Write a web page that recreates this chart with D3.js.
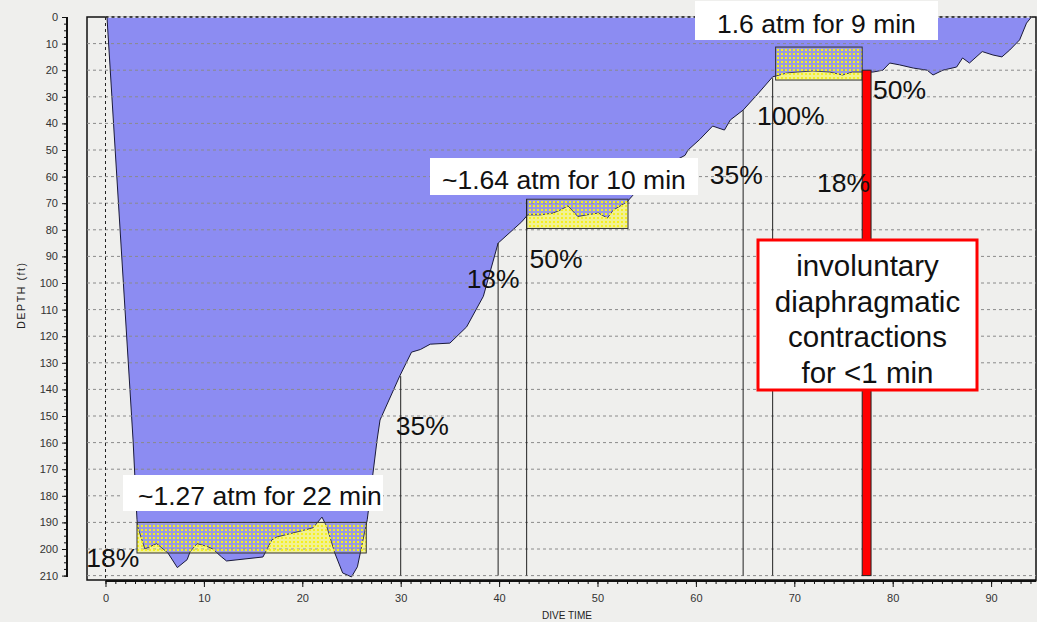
<!DOCTYPE html>
<html>
<head>
<meta charset="utf-8">
<script src="https://cdn.jsdelivr.net/npm/d3@7"></script>
<style>
  body { margin: 0; background: #efefed; }
  svg { display: block; font-family: "Liberation Sans", Arial, sans-serif; }
  .axis text { font-size: 11px; fill: #333; font-family: "Liberation Sans", Arial, sans-serif; }
  .axis path, .axis line { stroke: #111; }
</style>
</head>
<body>
<div id="chart"></div>
<script>
// dive profile (minutes, feet)
var profileTime = [0.15, 2.8, 3.2, 3.3, 4.0, 5.2, 6.35, 7.3, 8.3, 8.6, 9.3, 10.3, 10.9, 11.8, 12.3, 16.0, 16.9, 17.4,
  20.1, 21.1, 22.0, 22.5, 23.3, 24.1, 25.0, 25.6, 26.6, 27.6, 27.9, 29.9, 31.1, 32.0, 33.0, 35.0, 36.7, 38.4,
  39.9, 41.1, 42.3, 42.9, 44.2, 45.5, 46.2, 47.0, 48.0, 48.9, 50.1, 51.0, 51.6, 53.0, 53.6, 55.3, 58.9, 59.2,
  60.4, 61.7, 62.9, 63.5, 64.8, 66.2, 67.8, 69.3, 70.3, 71.9, 73.6, 74.9, 75.9, 76.9, 78.0, 79.0, 79.7, 80.7,
  82.1, 83.5, 84.1, 85.1, 86.5, 87.1, 87.8, 89.1, 90.2, 91.1, 91.9, 92.9, 93.6, 94.1];
var profileDepth = [0, 159, 189, 192, 200, 198, 201.5, 207, 204, 201, 198, 199, 200, 203, 204.5, 203, 196.6, 195.5,
  193, 192, 188, 191.7, 201.5, 209, 210.5, 206.7, 189, 159, 151.5, 135, 126, 125, 123, 122.6, 116.5, 105,
  85, 81, 77, 74.4, 74.4, 73.7, 72.6, 71, 75, 74.4, 73.7, 75.6, 72.6, 69.5, 67, 59, 52, 50,
  46, 41, 42.5, 38.7, 35, 29.3, 22.5, 21, 20.7, 20.3, 20.7, 21.8, 20.7, 20.7, 20.7, 20, 17.3, 18,
  19.2, 20, 21.8, 20, 18.8, 15.4, 17.3, 13, 14.3, 15, 12.4, 8.6, 2.3, 0];

// highlighted stretches (yellow boxes)
var boxStart = [3.2, 42.8, 68.1];
var boxEnd = [26.5, 53.1, 76.9];
var boxTop = [190, 68.5, 11.3];
var boxBottom = [201.5, 79.5, 23.7];
var boxLabels = ["~1.27 atm for 22 min", "~1.64 atm for 10 min", "1.6 atm for 9 min"];

// vertical marker lines and their percentages
var markerTime = [30, 39.9, 42.8, 64.8, 67.8];
var markerTop = [135, 85, 68.5, 35, 23];

var pctLabels = ["18%", "35%", "18%", "50%", "35%", "100%", "50%", "18%"];
var pctTime = [-1.95, 29.5, 36.7, 43.1, 61.4, 66.2, 78.0, 72.3];
var pctDepth = [206.8, 157, 101.8, 94.4, 62.8, 40.6, 30.8, 65.8];

// contraction period
var spasmStart = 76.9, spasmEnd = 77.8, spasmTop = 20, spasmBottom = 210;
var calloutLines = ["involuntary", "diaphragmatic", "contractions", "for <1 min"];

var yTicks = d3.range(0, 211, 10);
var xTicks = d3.range(0, 91, 10);

var width = 1037, height = 622;
var plotL = 87, plotT = 17, plotR = 1036, plotB = 580;

var x = d3.scaleLinear().domain([-1.88, 94.36]).range([plotL, 1034]);
var y = d3.scaleLinear().domain([0, 210]).range([plotT, 575.6]);

var svg = d3.select("#chart").append("svg")
  .attr("width", width)
  .attr("height", height);

svg.append("rect").attr("width", width).attr("height", height).attr("fill", "#efefed");

var defs = svg.append("defs");
var pat = defs.append("pattern")
  .attr("id", "dots")
  .attr("width", 4).attr("height", 4)
  .attr("patternUnits", "userSpaceOnUse");
pat.append("rect").attr("width", 4).attr("height", 4).attr("fill", "rgba(200,200,160,0.25)");
pat.append("rect").attr("x", 1).attr("y", 1).attr("width", 2).attr("height", 2).attr("fill", "#f6f020");

// plot frame
svg.append("rect")
  .attr("x", plotL).attr("y", plotT)
  .attr("width", plotR - plotL).attr("height", plotB - plotT)
  .attr("fill", "#efefed")
  .attr("stroke", "#111")
  .attr("stroke-width", 1.5);

var profile = profileTime.map(function(t, i) { return [t, profileDepth[i]]; });

// yellow base under the boxes
svg.selectAll("rect.boxbase")
  .data(boxStart)
  .enter().append("rect")
  .attr("class", "boxbase")
  .attr("x", function(d) { return x(d); })
  .attr("y", function(d, i) { return y(boxTop[i]); })
  .attr("width", function(d, i) { return x(boxEnd[i]) - x(d); })
  .attr("height", function(d, i) { return y(boxBottom[i]) - y(boxTop[i]); })
  .attr("fill", "#ffff90");

var area = d3.area()
  .x(function(d) { return x(d[0]); })
  .y0(y(0))
  .y1(function(d) { return y(d[1]); });

svg.append("path")
  .datum(profile)
  .attr("d", area)
  .attr("fill", "#8c8cf2");

svg.append("path")
  .datum(profile)
  .attr("d", d3.line().x(function(d) { return x(d[0]); }).y(function(d) { return y(d[1]); }))
  .attr("fill", "none")
  .attr("stroke", "#1a1a3a")
  .attr("stroke-width", 1);

// grid
svg.selectAll("line.grid")
  .data(yTicks.slice(1))
  .enter().append("line")
  .attr("class", "grid")
  .attr("x1", plotL).attr("x2", plotR)
  .attr("y1", function(d) { return y(d); })
  .attr("y2", function(d) { return y(d); })
  .attr("stroke", "#8a8a8a")
  .attr("stroke-dasharray", "3,3")
  .attr("stroke-width", 1);

svg.append("line")
  .attr("x1", x(0)).attr("x2", x(94.1))
  .attr("y1", y(0)).attr("y2", y(0))
  .attr("stroke", "#eeeeee").attr("stroke-width", 1.5);
svg.append("line")
  .attr("x1", x(0)).attr("x2", x(94.1))
  .attr("y1", y(0)).attr("y2", y(0))
  .attr("stroke", "#111").attr("stroke-width", 1.5)
  .attr("stroke-dasharray", "3,3");

svg.append("line")
  .attr("x1", x(0)).attr("x2", x(0))
  .attr("y1", plotT).attr("y2", plotB)
  .attr("stroke", "#222")
  .attr("stroke-dasharray", "3,3");

// dotted overlay + outline of boxes
svg.selectAll("rect.box")
  .data(boxStart)
  .enter().append("rect")
  .attr("class", "box")
  .attr("x", function(d) { return x(d); })
  .attr("y", function(d, i) { return y(boxTop[i]); })
  .attr("width", function(d, i) { return x(boxEnd[i]) - x(d); })
  .attr("height", function(d, i) { return y(boxBottom[i]) - y(boxTop[i]); })
  .attr("fill", "url(#dots)")
  .attr("stroke", "#333")
  .attr("stroke-width", 1);

// marker lines
svg.selectAll("line.marker")
  .data(markerTime)
  .enter().append("line")
  .attr("class", "marker")
  .attr("x1", function(d) { return x(d); })
  .attr("x2", function(d) { return x(d); })
  .attr("y1", function(d, i) { return y(markerTop[i]); })
  .attr("y2", y(210))
  .attr("stroke", "#222")
  .attr("stroke-width", 1);

svg.append("rect")
  .attr("x", x(spasmStart)).attr("y", y(spasmTop))
  .attr("width", x(spasmEnd) - x(spasmStart))
  .attr("height", y(spasmBottom) - y(spasmTop))
  .attr("fill", "#ff0000")
  .attr("stroke", "#222")
  .attr("stroke-width", 1);

// percentages
svg.selectAll("text.pct")
  .data(pctLabels)
  .enter().append("text")
  .attr("class", "pct")
  .attr("x", function(d, i) { return x(pctTime[i]); })
  .attr("y", function(d, i) { return y(pctDepth[i]); })
  .style("font-size", "26.5px")
  .attr("fill", "#111")
  .text(function(d) { return d; });

// white labels over the boxes
var labelBoxes = [[123, 475, 260, 36], [430, 158, 268, 37], [695, 1, 243, 39]];
var labelText = [[138, 505], [442, 189], [717, 33]];
labelBoxes.forEach(function(b, i) {
  svg.append("rect")
    .attr("x", b[0]).attr("y", b[1]).attr("width", b[2]).attr("height", b[3])
    .attr("fill", "#ffffff");
  svg.append("text")
    .attr("x", labelText[i][0]).attr("y", labelText[i][1])
    .style("font-size", "26.5px")
    .attr("fill", "#111")
    .text(boxLabels[i]);
});

// callout
svg.append("rect")
  .attr("x", 758).attr("y", 240).attr("width", 219).attr("height", 150)
  .attr("fill", "#ffffff")
  .attr("stroke", "#ff0000")
  .attr("stroke-width", 3);

svg.selectAll("text.callout")
  .data(calloutLines)
  .enter().append("text")
  .attr("class", "callout")
  .attr("x", 867.5)
  .attr("y", function(d, i) { return 276 + i * 35.6; })
  .attr("text-anchor", "middle")
  .style("font-size", "29.5px")
  .attr("fill", "#111")
  .text(function(d) { return d; });

// axes
var yAxis = svg.append("g")
  .attr("class", "axis")
  .attr("transform", "translate(67,0)")
  .call(d3.axisLeft(y).tickValues(yTicks).tickSize(5).tickSizeOuter(0).tickPadding(4));
yAxis.select(".domain").attr("stroke-width", 2).attr("d", "M0," + plotT + "V577");

svg.append("g")
  .attr("class", "axis")
  .attr("transform", "translate(67,0)")
  .call(d3.axisLeft(y).tickValues(d3.range(0, 211, 2.5)).tickSize(3).tickFormat(""))
  .select(".domain").remove();

var xAxis = svg.append("g")
  .attr("class", "axis")
  .attr("transform", "translate(0,581)")
  .call(d3.axisBottom(x).tickValues(xTicks).tickSize(6).tickSizeOuter(0).tickPadding(7));
xAxis.select(".domain").attr("stroke-width", 2).attr("d", "M" + x(0) + ",0H" + x(94.6));

svg.append("g")
  .attr("class", "axis")
  .attr("transform", "translate(0,581)")
  .call(d3.axisBottom(x).tickValues(d3.range(0, 95, 1)).tickSize(3).tickFormat(""))
  .select(".domain").remove();

svg.append("text")
  .attr("x", 567).attr("y", 619)
  .attr("text-anchor", "middle")
  .style("font-size", "10px")
  .attr("fill", "#222")
  .text("DIVE TIME");

svg.append("text")
  .attr("transform", "translate(25,295) rotate(-90)")
  .attr("text-anchor", "middle")
  .style("font-size", "10.5px")
  .style("letter-spacing", "1.6px")
  .attr("fill", "#222")
  .text("DEPTH (ft)");
</script>
</body>
</html>
